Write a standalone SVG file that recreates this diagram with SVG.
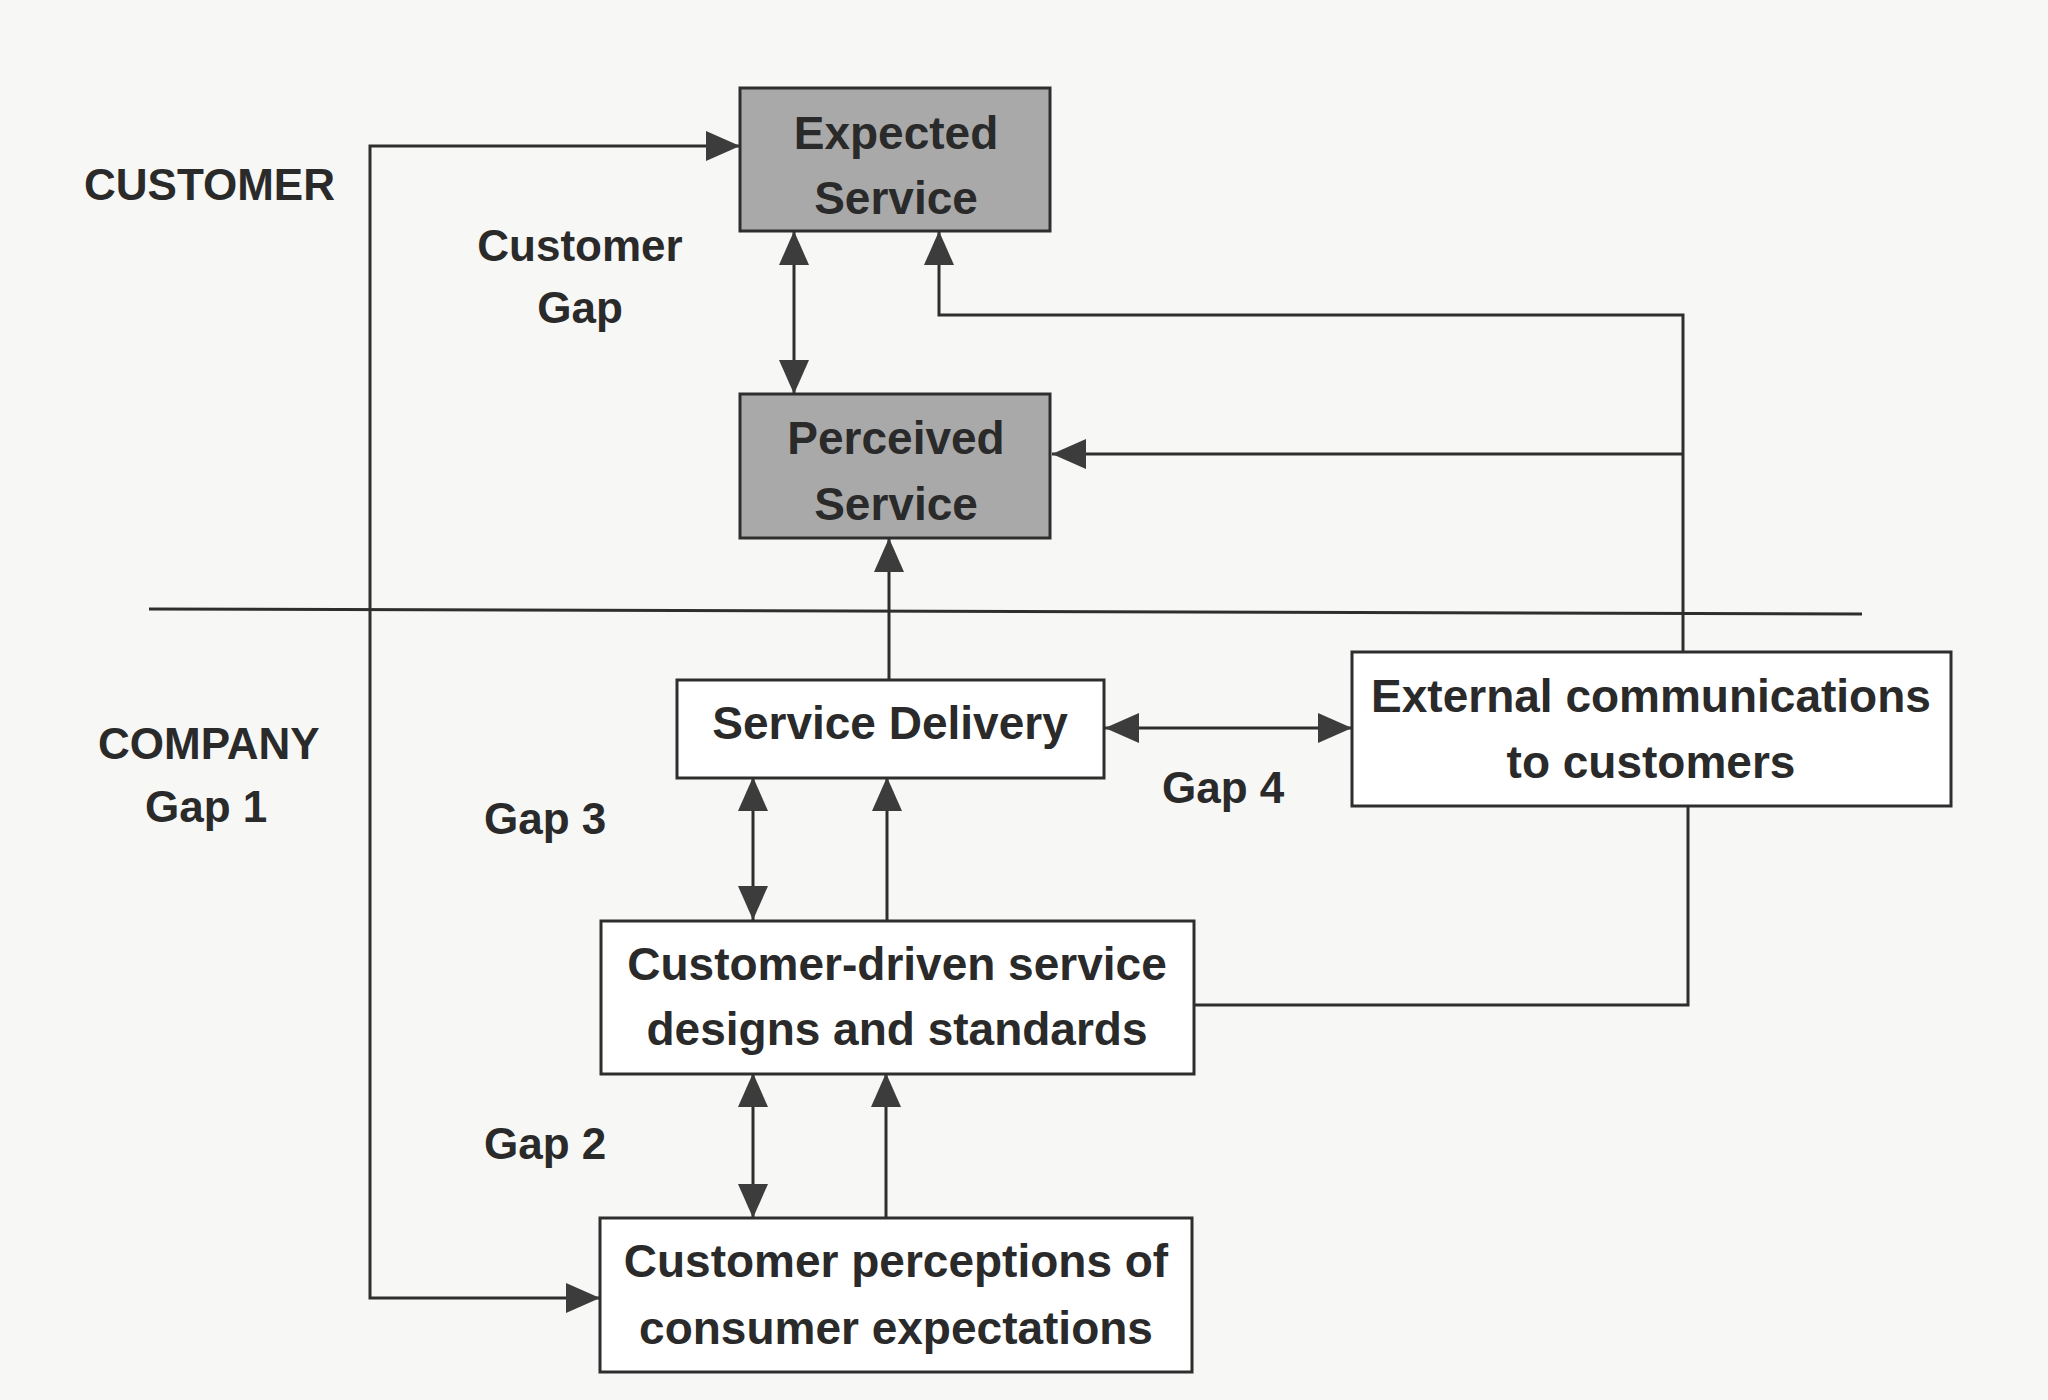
<svg xmlns="http://www.w3.org/2000/svg" width="2048" height="1400" viewBox="0 0 2048 1400">
<style>
.box{fill:#ffffff;stroke:#2e2e2e;stroke-width:3}
.shaded{fill:#a9a9a9;stroke:#2e2e2e;stroke-width:3}
.t{font-family:"Liberation Sans",Arial,sans-serif;font-weight:bold;font-size:46px;fill:#2a2a2a;text-anchor:middle}
.lbl{font-family:"Liberation Sans",Arial,sans-serif;font-weight:bold;font-size:44px;fill:#2a2a2a}
.c{fill:none;stroke:#2e2e2e;stroke-width:3}
</style>
<defs>
<marker id="ah" markerUnits="userSpaceOnUse" markerWidth="36" markerHeight="32" refX="34" refY="15" orient="auto-start-reverse">
<path d="M0,0 L34,15 L0,30 z" fill="#3c3c3c"/>
</marker>
</defs>
<rect x="0" y="0" width="2048" height="1400" fill="#f7f7f5"/>
<g id="connectors">
<path class="c" d="M149,609 L1862,614"/>
<path class="c" d="M740,146 L370,146 L370,1298 L600,1298" marker-start="url(#ah)" marker-end="url(#ah)"/>
<path class="c" d="M794,231 L794,394" marker-start="url(#ah)" marker-end="url(#ah)"/>
<path class="c" d="M1683,652 L1683,315 L939,315 L939,231" marker-end="url(#ah)"/>
<path class="c" d="M1683,454 L1052,454" marker-end="url(#ah)"/>
<path class="c" d="M889,680 L889,538" marker-end="url(#ah)"/>
<path class="c" d="M1105,728 L1352,728" marker-start="url(#ah)" marker-end="url(#ah)"/>
<path class="c" d="M753,777 L753,920" marker-start="url(#ah)" marker-end="url(#ah)"/>
<path class="c" d="M887,920 L887,777" marker-end="url(#ah)"/>
<path class="c" d="M753,1073 L753,1218" marker-start="url(#ah)" marker-end="url(#ah)"/>
<path class="c" d="M886,1218 L886,1073" marker-end="url(#ah)"/>
<path class="c" d="M1688,806 L1688,1005 L1194,1005"/>
</g>
<g id="expected-service">
<rect class="shaded" x="740" y="88" width="310" height="143"/>
<text class="t" x="896" y="149">Expected</text>
<text class="t" x="896" y="214">Service</text>
</g>
<g id="perceived-service">
<rect class="shaded" x="740" y="394" width="310" height="144"/>
<text class="t" x="896" y="454">Perceived</text>
<text class="t" x="896" y="520">Service</text>
</g>
<g id="service-delivery">
<rect class="box" x="677" y="680" width="427" height="98"/>
<text class="t" x="890" y="739">Service Delivery</text>
</g>
<g id="external-communications">
<rect class="box" x="1352" y="652" width="599" height="154"/>
<text class="t" x="1651" y="712">External communications</text>
<text class="t" x="1651" y="778">to customers</text>
</g>
<g id="service-designs">
<rect class="box" x="601" y="921" width="593" height="153"/>
<text class="t" x="897" y="980">Customer-driven service</text>
<text class="t" x="897" y="1045">designs and standards</text>
</g>
<g id="customer-perceptions">
<rect class="box" x="600" y="1218" width="592" height="154"/>
<text class="t" x="896" y="1277">Customer perceptions of</text>
<text class="t" x="896" y="1344">consumer expectations</text>
</g>
<g id="labels">
<text class="lbl" x="84" y="200">CUSTOMER</text>
<text class="lbl" x="580" y="261" text-anchor="middle">Customer</text>
<text class="lbl" x="580" y="323" text-anchor="middle">Gap</text>
<text class="lbl" x="98" y="759">COMPANY</text>
<text class="lbl" x="145" y="822">Gap 1</text>
<text class="lbl" x="484" y="834">Gap 3</text>
<text class="lbl" x="484" y="1159">Gap 2</text>
<text class="lbl" x="1162" y="803">Gap 4</text>
</g>
</svg>
